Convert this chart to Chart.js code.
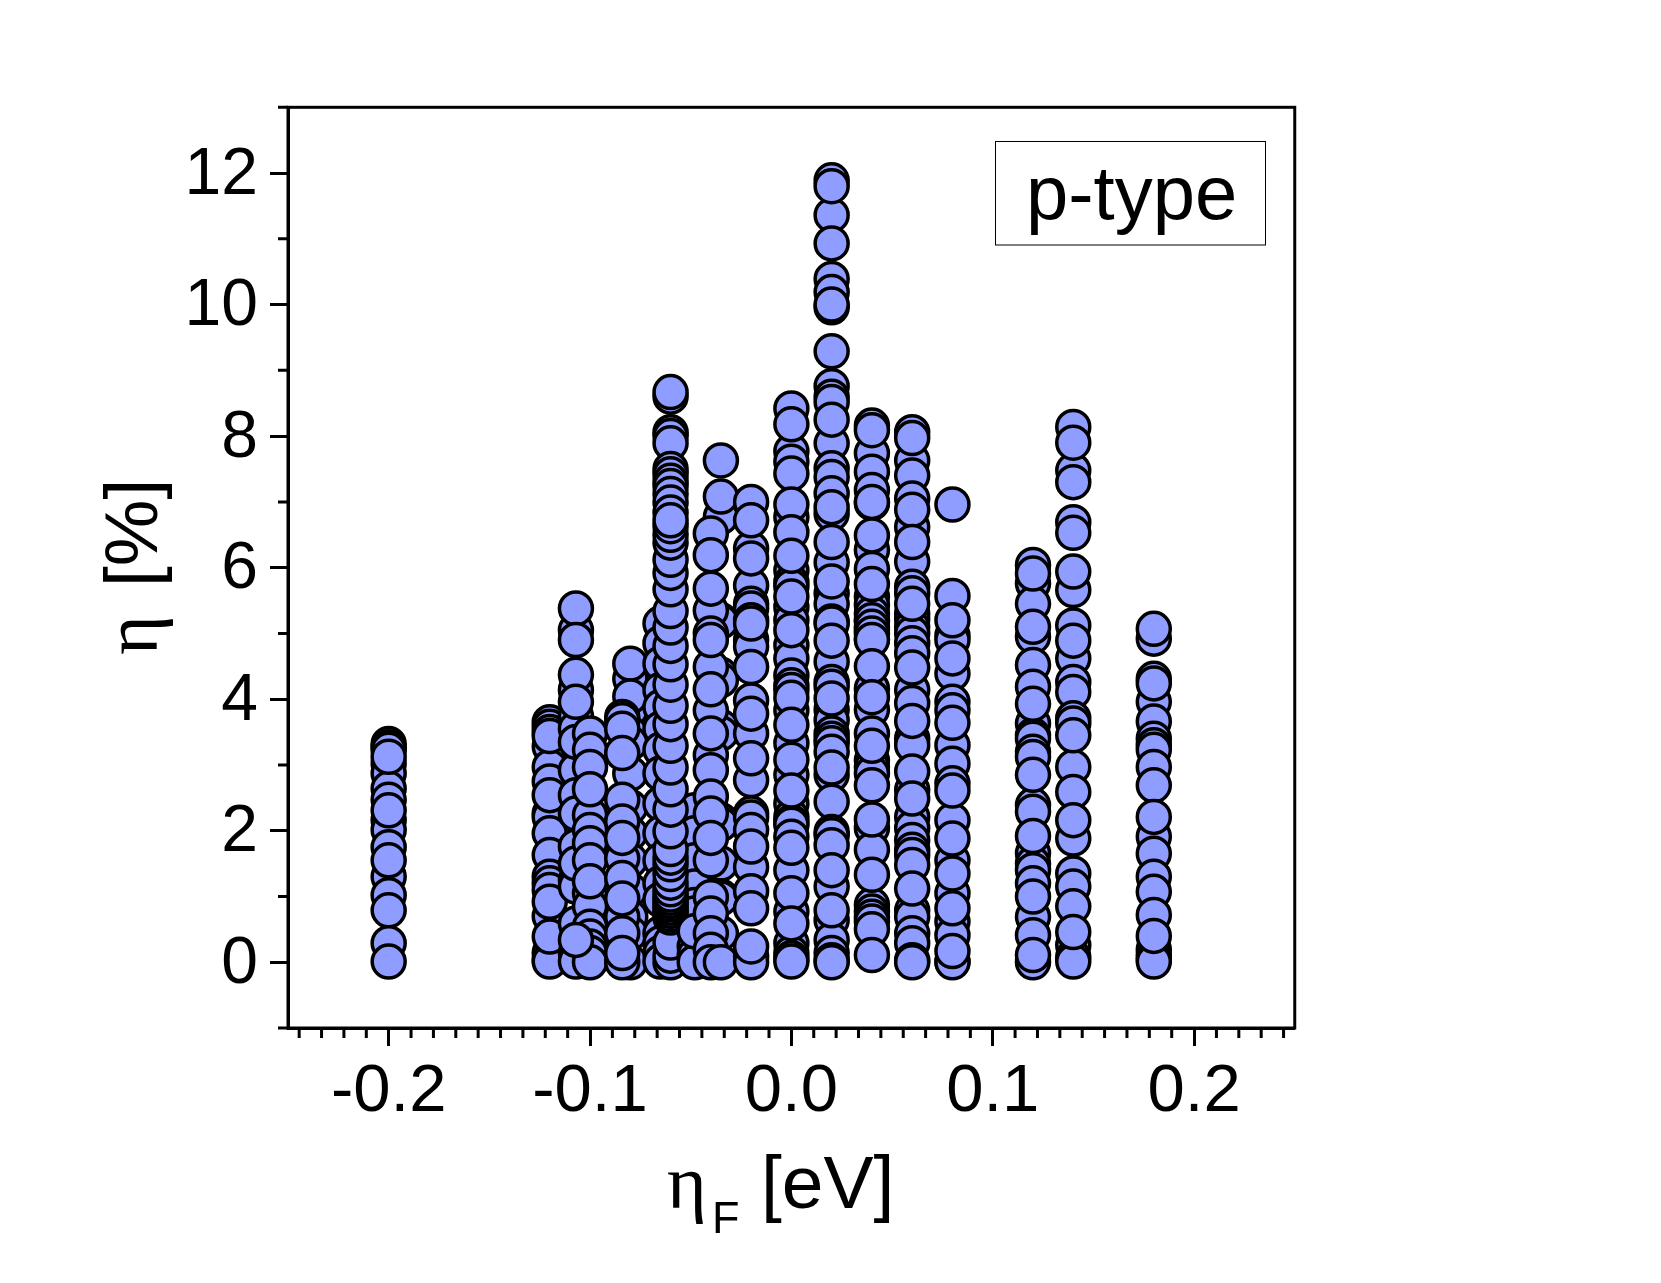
<!DOCTYPE html>
<html>
<head>
<meta charset="utf-8">
<title>p-type</title>
<style>
  html, body { margin: 0; padding: 0; background: #fff; }
  canvas { display: block; }
</style>
<script src="https://cdn.jsdelivr.net/npm/chart.js@4"></script>
</head>
<body>
<canvas id="chart" width="1661" height="1283"></canvas>
<script>
// values, column by column. last ones in a list sit on top
var col_m200 = [3.32, 3.27, 3.23, 3.02, 2.87, 2.64, 2.47, 2.16, 2.01, 1.75, 1.30, 1.02, 0.79, 0.29, 3.125, 2.31, 1.55, 0.01];
var col_m120 = [3.65, 3.58, 3.5, 3.28, 2.97, 2.75, 2.26, 2.21, 1.96, 1.63, 1.30, 1.2, 1.1, 0.7, 0.14, 0.03, 0.01, 3.44, 2.54, 0.92, 0.39];
var col_m107 = [5.05, 4.14, 3.74, 3.55, 2.92, 2.54, 2.26, 1.76, 1.25, 1.15, 0.59, 0.14, 0.01, 5.38, 4.90, 4.37, 3.96, 3.35, 1.5];
var col_m100 = [3.48, 2.24, 2.01, 1.81, 1.55, 1.05, 0.85, 0.54, 0.39, 0.24, 0.14, 0.0, 3.23, 2.97, 2.63, 1.23];
var col_m107b = [0.34];
var col_m080 = [4.31, 3.83, 3.48, 3.33, 2.87, 2.36, 1.96, 1.55, 1.1, 0.69, 0.44, 0.0, 4.54, 4.04];
var col_m084 = [3.73, 3.68, 2.47, 2.14, 1.58, 0.69, 0.44, 0.0, 3.55, 3.18, 1.89, 1.28, 0.97, 0.14];
var col_m065 = [5.15, 4.85, 4.54, 4.14, 3.88, 3.55, 3.23, 2.87, 2.41, 1.96, 1.55, 1.2, 0.95, 0.44, 0.29, 0.14, 0.01];
var col_m048_back = [2.31, 1.96, 1.55, 1.15, 0.87, 0.74];
var col_m060 = [0.0, 0.1, 0.3, 8.6, 8.67, 8.06, 8.0, 7.89, 7.5, 7.42, 7.32, 7.24, 7.12, 6.99, 6.84,
  0.68, 0.73, 0.78, 0.83, 0.88, 0.93, 0.98, 1.03, 1.11, 1.21, 1.34, 1.49, 1.59, 1.72, 1.99, 2.32, 2.63, 2.96, 3.29, 3.62, 3.90,
  4.22, 4.53, 4.81, 5.09, 5.34, 5.67, 5.92, 6.12, 6.38, 6.5, 6.63, 6.72];
var col_m048 = [0.24, 0.11, 0.0, 0.47];
var col_m035 = [6.77, 5.2, 5.18, 4.37, 4.29, 3.58, 3.48, 2.16, 2.1, 1.5, 1.0, 0.97, 0.44, 7.63, 7.08];
var col_m040 = [5.35, 5.0, 4.49, 3.83, 3.15, 2.92, 2.52, 2.26, 1.55, 0.99, 0.74, 0.44, 0.19, 0.0, 6.52, 6.19, 5.68, 4.90, 4.15, 3.48, 1.89];
var col_m035b = [0.0];
var col_m020 = [7.0, 6.29, 5.73, 5.45, 5.38, 4.9, 4.8, 3.98, 3.48, 2.77, 2.26, 2.2, 2.01, 1.45, 1.08, 0.09, 0.0,
  6.72, 6.14, 5.2, 5.15, 4.49, 3.78, 3.10, 1.76, 0.82, 0.24];
var col_000 = [8.42, 7.77, 7.61, 7.43, 6.77, 5.96, 5.78, 5.71, 5.4, 5.2, 4.82, 4.62, 4.36, 4.21, 4.14, 3.83, 3.33, 2.85, 2.41, 2.21, 2.13, 2.09, 1.91, 1.4, 0.77, 0.29, 0.14, 0.06, 0.01,
  8.18, 6.96, 6.54, 6.18, 5.56, 5.05, 4.02, 3.61, 3.08, 2.61, 1.74, 1.05, 0.59];
var col_020 = [11.89, 11.36, 10.93, 10.39, 10.19, 9.96, 8.76, 8.6, 8.52, 7.89, 7.51, 7.38, 7.13, 6.82, 6.08, 5.61, 5.45, 5.18, 5.15, 4.57, 4.26, 4.19, 3.84, 3.68, 3.48, 3.4, 3.33, 3.2, 2.85, 2.44, 1.98, 1.93, 1.78, 1.15, 0.64, 0.34, 0.14, 0.03, 0.0,
  11.8, 10.0, 9.29, 8.25, 6.92, 6.39, 5.79, 4.89, 4.01, 2.96, 1.40, 0.79];
var col_040 = [8.16, 7.74, 7.46, 7.18, 6.98, 6.27, 5.98, 5.56, 5.43, 5.3, 5.18, 5.05, 4.92, 5.2, 5.1, 5.0, 4.9, 4.16, 3.84, 3.48, 3.07, 2.97, 2.87, 2.69, 2.04, 1.71, 0.87, 0.77, 0.69, 0.62,
  8.09, 7.0, 6.49, 5.75, 4.50, 4.03, 3.29, 2.17, 1.33, 0.50, 0.11];
var col_060 = [8.06, 7.63, 7.4, 7.05, 6.62, 6.09, 5.71, 5.61, 5.3, 5.22, 5.1, 5.0, 4.85, 4.7, 4.14, 3.94, 3.4, 3.3, 2.62, 2.21, 2.04, 1.86, 1.71, 1.63, 1.48, 0.79, 0.69, 0.44, 0.29, 0.03, 0.0,
  7.97, 6.88, 6.39, 5.45, 4.48, 3.67, 2.9, 2.49, 1.12];
var col_080 = [5.57, 4.97, 4.9, 4.39, 3.96, 3.83, 3.3, 3.02, 2.72, 2.16, 1.55, 1.05, 0.62, 0.41, 0.01, 0.0,
  6.96, 5.2, 4.62, 3.64, 2.61, 1.88, 1.35, 0.82, 0.17];
var col_120 = [6.04, 5.76, 5.45, 4.95, 4.52, 4.19, 3.63, 3.45, 3.4, 3.2, 3.12, 2.39, 2.29, 1.66, 1.5, 1.4, 1.2, 0.69, 0.0,
  5.91, 5.1, 3.93, 2.85, 1.92, 1.0, 0.41, 0.11];
var col_140 = [8.14, 7.48, 6.69, 5.66, 5.12, 4.62, 4.26, 4.11, 3.71, 3.63, 2.97, 2.59, 1.88, 1.35, 1.15, 0.85, 0.26, 0.08, 0.01,
  7.9, 7.3, 6.53, 5.94, 4.89, 3.45, 2.16, 0.46];
var col_180 = [4.92, 4.31, 3.96, 3.66, 3.4, 3.3, 3.23, 2.97, 1.91, 1.65, 1.3, 1.07, 0.72, 0.19, 0.11, 0.05, 0.01,
  5.07, 4.24, 2.69, 2.21, 0.40];

var columnX = [-0.2, -0.12, -0.107, -0.1, -0.107, -0.08, -0.084, -0.065, -0.048, -0.06, -0.048, -0.035, -0.04, -0.035, -0.02,
  0, 0.02, 0.04, 0.06, 0.08, 0.12, 0.14, 0.18];
var columnY = [col_m200, col_m120, col_m107, col_m100, col_m107b, col_m080, col_m084, col_m065, col_m048_back, col_m060, col_m048,
  col_m035, col_m040, col_m035b, col_m020, col_000, col_020, col_040, col_060, col_080, col_120, col_140, col_180];

var xTicks = [-0.2, -0.1, 0, 0.1, 0.2];
var yTicks = [0, 2, 4, 6, 8, 10, 12];
var yMinorTicks = [-1, 1, 3, 5, 7, 9, 11, 13];

var sansFont = '"Liberation Sans"';
var serifFont = '"Liberation Serif"';

// origin style: 8 minor ticks between two labelled ones
var xMinorTicks = [];
for (var k = -4; k <= 40; k++) {
  if ((k + 90) % 9 !== 0) xMinorTicks.push(-0.2 + k * 0.1 / 9);
}

function drawText(ctx, text, x, y, font) {
  ctx.font = font;
  ctx.fillText(text, x, y);
}

var extrasPlugin = {
  id: 'extras',
  afterDraw: function(chart) {
    var ctx = chart.ctx;
    var area = chart.chartArea;
    var xs = chart.scales.x;
    var ys = chart.scales.y;
    ctx.save();
    ctx.strokeStyle = '#000';
    ctx.fillStyle = '#000';
    ctx.lineWidth = 3;
    ctx.strokeRect(area.left, area.top, area.right - area.left, area.bottom - area.top);

    // minor ticks
    ctx.beginPath();
    xMinorTicks.forEach(function(v) {
      var px = xs.getPixelForValue(v);
      ctx.moveTo(px, area.bottom);
      ctx.lineTo(px, area.bottom + 10);
    });
    yMinorTicks.forEach(function(v) {
      var py = ys.getPixelForValue(v);
      ctx.moveTo(area.left, py);
      ctx.lineTo(area.left - 10, py);
    });
    ctx.stroke();

    // label box
    ctx.lineWidth = 1;
    ctx.strokeRect(995.5, 141.5, 270, 103.5);
    ctx.textBaseline = 'alphabetic';
    ctx.textAlign = 'left';
    drawText(ctx, 'p-type', 1026, 219, '76px ' + sansFont);

    // x title
    drawText(ctx, 'η', 667, 1208, '76px ' + serifFont);
    drawText(ctx, 'F', 712, 1233, '45px ' + sansFont);
    drawText(ctx, '[eV]', 761, 1208, '75px ' + sansFont);

    // y title
    ctx.translate(157, 655);
    ctx.rotate(-Math.PI / 2);
    drawText(ctx, 'η', 0, 0, '76px ' + serifFont);
    drawText(ctx, '[%]', 68, 0, '75px ' + sansFont);
    ctx.restore();
  }
};

// chart.js paints the first dataset last, so flip the list to keep my column order
var datasets = columnX.map(function(x, i) {
  return {
    data: columnY[i].map(function(v) { return { x: x, y: v }; }),
    pointRadius: 16.5,
    pointBorderWidth: 3.5,
    pointBackgroundColor: '#8E9DFF',
    pointBorderColor: '#000',
    showLine: false
  };
}).reverse();

var ctx = document.getElementById('chart').getContext('2d');
var chart = new Chart(ctx, {
  type: 'scatter',
  data: { datasets: datasets },
  plugins: [extrasPlugin],
  options: {
    responsive: false,
    animation: false,
    events: [],
    layout: { padding: { left: 0, top: 107.3, right: 366.25, bottom: 100 } },
    plugins: { legend: { display: false }, tooltip: { enabled: false } },
    scales: {
      x: {
        type: 'linear',
        min: -0.25,
        max: 0.25,
        afterBuildTicks: function(axis) {
          axis.ticks = xTicks.map(function(v) { return { value: v }; });
        },
        afterFit: function(axis) { axis.height = 155; },
        grid: { drawOnChartArea: false, tickLength: 18, tickWidth: 3, tickColor: '#000' },
        border: { display: true, color: '#000', width: 3 },
        ticks: {
          color: '#000',
          font: { family: sansFont, size: 67 },
          padding: 6,
          maxRotation: 0,
          autoSkip: false,
          callback: function(v) { return v.toFixed(1); }
        }
      },
      y: {
        type: 'linear',
        min: -1,
        max: 13,
        afterBuildTicks: function(axis) {
          axis.ticks = yTicks.map(function(v) { return { value: v }; });
        },
        afterFit: function(axis) { axis.width = 288; },
        grid: { drawOnChartArea: false, tickLength: 18, tickWidth: 3, tickColor: '#000' },
        border: { display: true, color: '#000', width: 3 },
        ticks: {
          color: '#000',
          font: { family: sansFont, size: 66 },
          padding: 12,
          labelOffset: 2.5,
          autoSkip: false,
          callback: function(v) { return String(v); }
        }
      }
    }
  }
});
</script>
</body>
</html>
